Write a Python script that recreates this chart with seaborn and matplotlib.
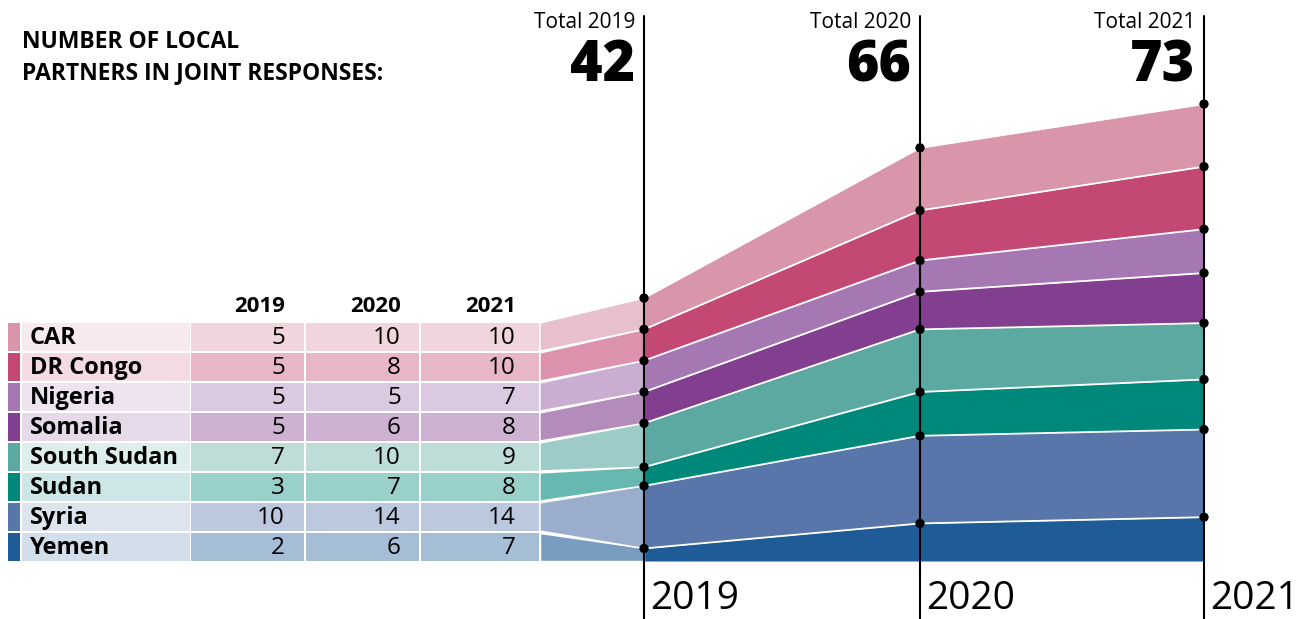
import seaborn as sns
import pandas as pd
import matplotlib.pyplot as plt
from matplotlib.patches import Rectangle, Polygon
from matplotlib.colors import to_rgb

countries = ["CAR", "DR Congo", "Nigeria", "Somalia", "South Sudan", "Sudan", "Syria", "Yemen"]
years = [2019, 2020, 2021]
v2019 = [5, 5, 5, 5, 7, 3, 10, 2]
v2020 = [10, 8, 5, 6, 10, 7, 14, 6]
v2021 = [10, 10, 7, 8, 9, 8, 14, 7]
colors = ["#d995aa", "#c44874", "#a678b3", "#823f8f", "#5ca9a1", "#00897b", "#5876aa", "#1f5b96"]

title_lines = ["NUMBER OF LOCAL", "PARTNERS IN JOINT RESPONSES:"]

# layout (pixels)
year_x = [644, 920, 1204]
base = 561
k = 6.26          # pixels per partner
row_top0, row_h = 321, 30
table_right = 540

sns.set_theme(style="white")
plt.rcParams['font.family'] = ['Open Sans', 'DejaVu Sans']
plt.rcParams['text.color'] = 'black'


def tint(c, a):
    r, g, b = to_rgb(c)
    return (1 - a + a * r, 1 - a + a * g, 1 - a + a * b)


df = pd.DataFrame({"country": countries, 2019: v2019, 2020: v2020, 2021: v2021})
# stack from the bottom (Yemen) up
stack = df.iloc[::-1].reset_index(drop=True)
upper = stack[years].cumsum()
lower = upper - stack[years]

fig = plt.figure(figsize=(13.13, 6.19), dpi=100)
ax = fig.add_axes([0, 0, 1, 1])

dots = []
for j in range(len(stack)):
    name = stack.loc[j, "country"]
    i = countries.index(name)
    c = colors[i]
    lo = base - lower.loc[j].values * k
    hi = base - upper.loc[j].values * k
    # stacked area
    ax.fill_between(year_x, lo, hi, color=c, lw=0, zorder=1)
    ax.plot(year_x, hi, color="white", lw=1.3, zorder=2)
    # connector from table row to 2019 stack
    top = row_top0 + i * row_h + 2
    bot = row_top0 + (i + 1) * row_h
    ax.add_patch(Polygon([(table_right, top), (table_right, bot), (year_x[0], lo[0]), (year_x[0], hi[0])],
                         closed=True, facecolor=tint(c, 0.6), edgecolor="white", lw=1.0, zorder=1))
    for x, y in zip(year_x, hi):
        dots.append({"x": x, "y": y})

# table
for i, name in enumerate(countries):
    c = colors[i]
    top = row_top0 + i * row_h + 2
    h = row_h - 2
    ax.add_patch(Rectangle((8, top), 12, h, color=c, lw=0))
    ax.add_patch(Rectangle((22, top), 168, h, color=tint(c, 0.2), lw=0))
    for (x0, x1) in [(191, 304), (306, 419), (421, 539)]:
        ax.add_patch(Rectangle((x0, top), x1 - x0, h, color=tint(c, 0.4), lw=0))
    ax.text(30, top + h / 2 + 1, name, fontsize=17, fontweight="bold", va="center", ha="left")
    for xr, val in zip([285, 401, 516], [v2019[i], v2020[i], v2021[i]]):
        ax.text(xr, top + h / 2 + 1, str(val), fontsize=17.5, va="center", ha="right")

for xr, yr in zip([285, 401, 516], years):
    ax.text(xr, 307, str(yr), fontsize=16, fontweight="bold", va="center", ha="right")

# year lines, totals, bottom labels
totals = [sum(v2019), sum(v2020), sum(v2021)]
for x, yr, tot in zip(year_x, years, totals):
    ax.plot([x, x], [16, 619], color="black", lw=1.5, zorder=3)
    ax.text(x - 9, 12, f"Total {yr}", fontsize=15, ha="right", va="top")
    ax.text(x - 9, 81, str(tot), fontsize=40, fontweight="heavy", ha="right", va="baseline")
    ax.text(x + 6, 618, str(yr), fontsize=28, ha="left", va="bottom")

sns.scatterplot(data=pd.DataFrame(dots), x="x", y="y", color="black", s=45,
                edgecolor="none", zorder=4, ax=ax, legend=False)
ax.set_xlim(0, 1313)
ax.set_ylim(619, 0)
ax.axis("off")

for yb, line in zip([48, 79], title_lines):
    ax.text(22, yb, line, fontsize=16.5, fontweight="bold", ha="left", va="baseline")

fig.savefig("out.png", dpi=100)
